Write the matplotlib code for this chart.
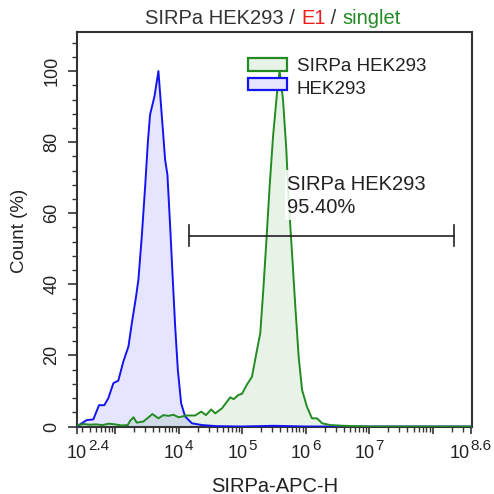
import numpy as np
import matplotlib
matplotlib.use("Agg")
import matplotlib.pyplot as plt
from matplotlib.ticker import FixedLocator, MultipleLocator, NullFormatter

plt.rcParams['font.family'] = ['Liberation Sans', 'DejaVu Sans']

# ---- data (log10 of SIRPa-APC-H, count %) ----
hek_log = [2.40, 2.447, 2.553, 2.657, 2.747, 2.83, 2.894, 2.973, 3.05, 3.13, 3.21, 3.263,
           3.33, 3.367, 3.42, 3.473, 3.515, 3.55, 3.62, 3.682, 3.736, 3.788, 3.824,
           3.867, 3.903, 3.946, 3.988, 4.04, 4.103, 4.21, 4.37, 4.6, 5.0, 5.5, 6.0, 7.0, 8.6]
hek_cnt = [0.0, 0.6, 1.8, 2.0, 6.0, 6.0, 8.0, 12.2, 12.9, 18.3, 22.5, 29.0,
           36.6, 41.3, 53.5, 67.5, 79.8, 87.7, 92.9, 100.0, 87.3, 75.0, 70.8,
           56.3, 43.2, 28.1, 15.9, 6.5, 2.8, 0.9, 0.4, 0.1, 0.0, 0.2, 0.0, 0.0, 0.0]

sirpa_log = [2.40, 2.5, 2.6, 2.7, 2.8, 2.9, 3.0, 3.1, 3.2, 3.236, 3.29, 3.34, 3.446, 3.588,
             3.683, 3.76, 3.84, 3.92, 3.998, 4.13, 4.26, 4.356, 4.43, 4.513, 4.577,
             4.682, 4.813, 4.866, 4.944, 4.998, 5.076, 5.155, 5.234, 5.286, 5.33, 5.38,
             5.433, 5.487, 5.55, 5.59, 5.644, 5.696, 5.733, 5.786, 5.838, 5.89, 5.944,
             6.02, 6.1, 6.18, 6.26, 6.39, 6.6, 7.0, 8.6]
sirpa_cnt = [0.3, 0.7, 0.5, 0.6, 0.4, 0.8, 0.6, 0.3, 0.4, 1.6, 2.6, 1.1, 1.4, 3.5,
             2.3, 3.2, 3.0, 3.3, 2.6, 3.1, 3.1, 4.2, 3.2, 4.8, 3.7,
             5.1, 8.2, 7.7, 8.9, 9.2, 11.8, 14.0, 21.5, 26.3, 37.5, 51.6,
             67.5, 81.6, 93.9, 100.0, 92.0, 77.9, 63.8, 48.8, 33.7, 19.7, 10.3,
             5.6, 2.3, 2.3, 0.9, 0.4, 0.2, 0.0, 0.0]

gate_log = [4.17, 8.33]
gate_y = 53.7
gate_name = "SIRPa HEK293"
gate_pct = "95.40%"

xtick_exp = [2.4, 3, 4, 5, 6, 7, 8, 8.6]
xtick_lbl = ['2.4', '', '4', '5', '6', '7', '', '8.6']
ytick_vals = [0, 20, 40, 60, 80, 100]

blue = '#1414f0'
green = '#228b22'
dark = '#222222'

W = H = 494
fig = plt.figure(figsize=(4.94, 4.94), dpi=100)
AX_L, AX_R, AX_T, AX_B = 77, 472, 32, 426.5
ax = fig.add_axes([AX_L / W, 1 - AX_B / H, (AX_R - AX_L) / W, (AX_B - AX_T) / H])

hx = 10 ** np.array(hek_log)
sx = 10 ** np.array(sirpa_log)
ax.fill_between(hx, 0, hek_cnt, facecolor=(0.0, 0.0, 1.0, 0.10), edgecolor='none', zorder=1)
ax.fill_between(sx, 0, sirpa_cnt, facecolor=(0.13, 0.55, 0.13, 0.10), edgecolor='none', zorder=1)
ax.plot(hx, hek_cnt, color=blue, lw=1.4, zorder=3)
ax.plot(sx, sirpa_cnt, color=green, lw=1.4, zorder=3)

ax.set_xscale('log')
ax.set_xlim(10 ** 2.4, 10 ** 8.62)
ax.set_ylim(0, 111)

ax.xaxis.set_major_locator(FixedLocator([10 ** e for e in xtick_exp]))
ax.xaxis.set_major_formatter(NullFormatter())
minors = [m * 10 ** d for d in range(2, 9) for m in range(2, 10)
          if 10 ** 2.4 < m * 10 ** d < 10 ** 8.6]
ax.xaxis.set_minor_locator(FixedLocator(minors))
ax.xaxis.set_minor_formatter(NullFormatter())

ax.yaxis.set_major_locator(FixedLocator(ytick_vals))
ax.yaxis.set_minor_locator(MultipleLocator(4))

ax.tick_params(axis='x', which='major', length=5, width=1.2, color='#333333')
ax.tick_params(axis='y', which='major', length=6.5, width=1.2, color='#333333',
               labelsize=13, labelcolor=dark, pad=5.5)
ax.tick_params(axis='both', which='minor', length=3.3, width=1.0, color='#333333')
for lbl in ax.get_yticklabels():
    lbl.set_rotation(90)
    lbl.set_va('center')

for sp in ax.spines.values():
    sp.set_color('#333333')
    sp.set_linewidth(1.5)

fig.canvas.draw()
r = fig.canvas.get_renderer()


def text_w(s, fs):
    t = fig.text(0, 0, s, fontsize=fs)
    w = t.get_window_extent(renderer=r).width
    t.remove()
    return w


# x tick labels: "10" + raised exponent
FS_BASE, FS_EXP = 13, 11
w10 = text_w('10', FS_BASE)
for i, (e, lab) in enumerate(zip(xtick_exp, xtick_lbl)):
    if not lab:
        continue
    we = text_w(lab, FS_EXP)
    total = w10 + 1 + we
    shift = 11 if i == 0 else 0
    left = -total / 2 + shift
    ax.annotate('10', xy=(10 ** e, 0), xycoords=('data', 'axes fraction'),
                xytext=(left, -(458 - AX_B)), textcoords='offset pixels',
                fontsize=FS_BASE, color=dark, ha='left', va='baseline', annotation_clip=False)
    ax.annotate(lab, xy=(10 ** e, 0), xycoords=('data', 'axes fraction'),
                xytext=(left + w10 + 1, -(450 - AX_B)), textcoords='offset pixels',
                fontsize=FS_EXP, color=dark, ha='left', va='baseline', annotation_clip=False)

# axis labels
fig.text(275 / W, 1 - 491.5 / H, 'SIRPa-APC-H', fontsize=14.5, color=dark, ha='center', va='baseline')
fig.text(20 / W, 1 - 231 / H, 'Count (%)', fontsize=13.5, color=dark, rotation=90,
         ha='center', va='center')

# gate
ax.plot([10 ** gate_log[0], 10 ** gate_log[1]], [gate_y, gate_y], color=dark, lw=1.2, zorder=4)
for g in gate_log:
    ax.plot([10 ** g, 10 ** g], [gate_y - 3, gate_y + 3], color=dark, lw=1.2, zorder=4)


def px2ax(x, y):
    return ((x - AX_L) / (AX_R - AX_L), (AX_B - y) / (AX_B - AX_T))


bx0, by0 = px2ax(285, 220)
bx1, by1 = px2ax(430, 170)
ax.add_patch(plt.Rectangle((bx0, by0), bx1 - bx0, by1 - by0, transform=ax.transAxes,
                           facecolor='white', edgecolor='none', alpha=0.85, zorder=4.5))
tx, ty = px2ax(286.5, 190)
ax.text(tx, ty, gate_name, transform=ax.transAxes, fontsize=14.5, color=dark,
        ha='left', va='baseline', zorder=5)
tx, ty = px2ax(286.5, 213)
ax.text(tx, ty, gate_pct, transform=ax.transAxes, fontsize=14.5, color=dark,
        ha='left', va='baseline', zorder=5)

# legend (manual)
for (ytop, fc, ec, name, base) in [(58, (0.13, 0.55, 0.13, 0.10), green, 'SIRPa HEK293', 71),
                                   (77.5, (0.0, 0.0, 1.0, 0.10), blue, 'HEK293', 94)]:
    xa, ya = px2ax(248, ytop + 12.5)
    wa = 39 / (AX_R - AX_L)
    ha_ = 12.5 / (AX_B - AX_T)
    ax.add_patch(plt.Rectangle((xa, ya), wa, ha_, transform=ax.transAxes,
                               facecolor='white', edgecolor='none', zorder=5))
    ax.add_patch(plt.Rectangle((xa, ya), wa, ha_, transform=ax.transAxes,
                               facecolor=fc, edgecolor=ec, lw=1.6, zorder=6))
    tx, ty = px2ax(296.5, base)
    ax.text(tx, ty, name, transform=ax.transAxes, fontsize=13.5, color=dark,
            ha='left', va='baseline', zorder=6)

# title in three colours
parts = [('SIRPa HEK293 / ', '#333333'), ('E1', '#ee1c1c'), (' / ', '#333333'), ('singlet', '#228b22')]
fs_title = 14.5
widths = [text_w(s, fs_title) for s, _ in parts]
x0 = 273 - sum(widths) / 2
for (s, c), w in zip(parts, widths):
    fig.text(x0 / W, 1 - 24 / H, s, fontsize=fs_title, color=c, ha='left', va='baseline')
    x0 += w

fig.savefig('out.png', dpi=100)
